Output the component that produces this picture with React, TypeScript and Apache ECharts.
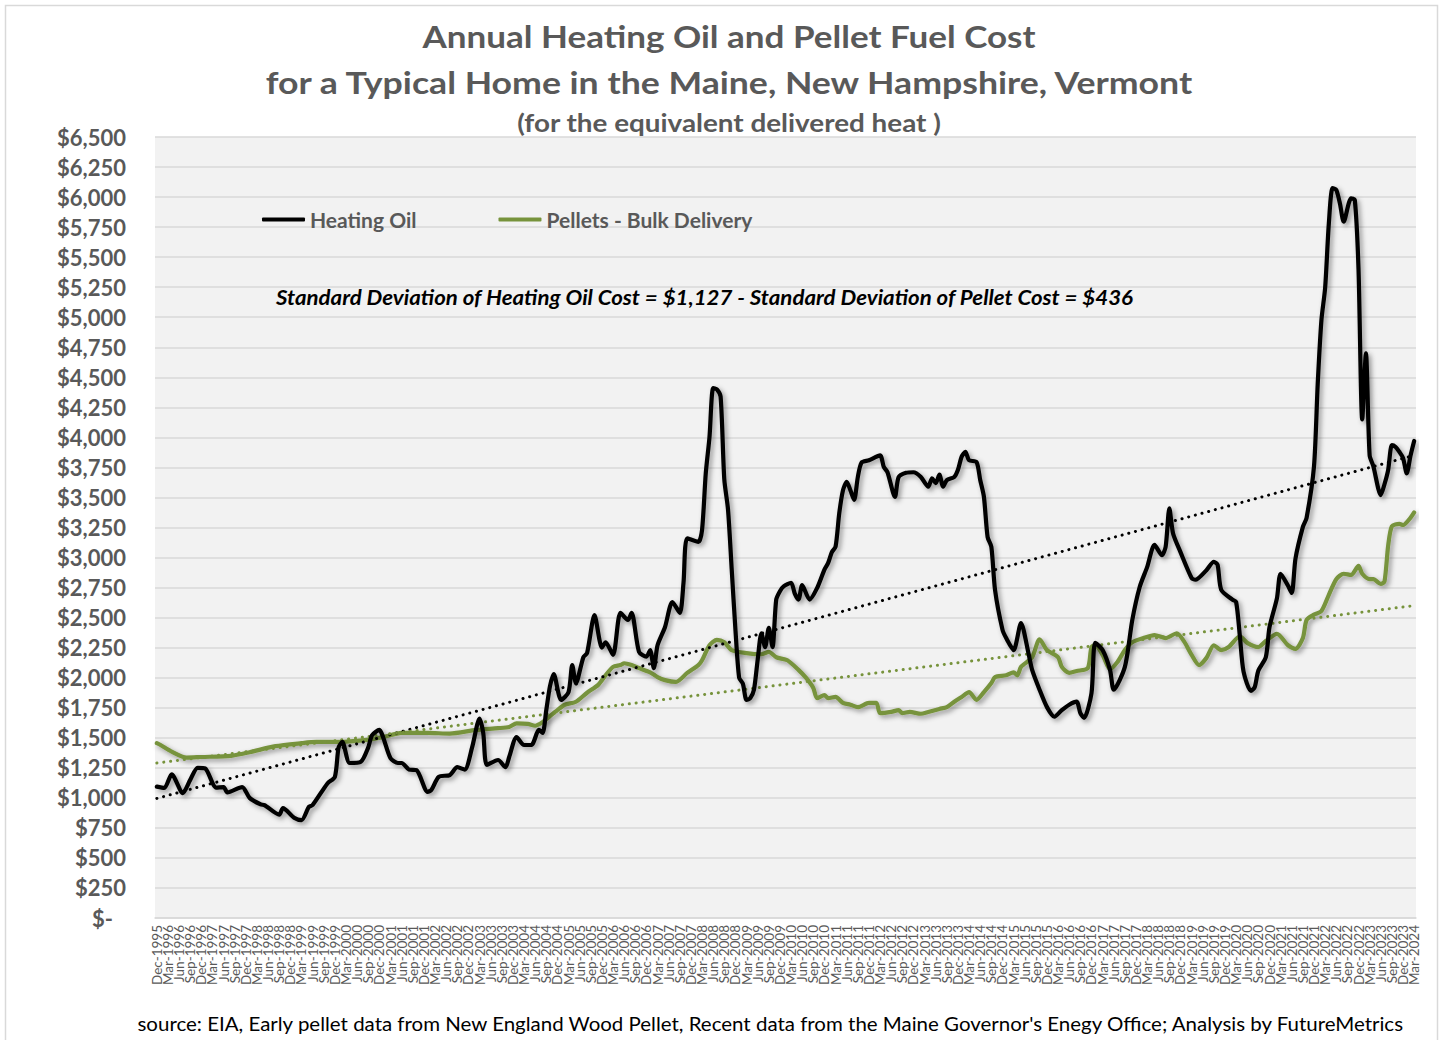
import React, { useEffect, useRef } from "react";
import * as echarts from "echarts";

// Month categories: Dec-1995 .. Mar-2024 (monthly), labels shown quarterly
const MONTH_NAMES = ["Jan", "Feb", "Mar", "Apr", "May", "Jun", "Jul", "Aug", "Sep", "Oct", "Nov", "Dec"];
const START_YEAR = 1995;
const START_MONTH = 11; // December
const MONTH_COUNT = 340;
const categories: string[] = [];
for (let i = 0; i < MONTH_COUNT; i++) {
  const m = (START_MONTH + i) % 12;
  const y = START_YEAR + Math.floor((START_MONTH + i) / 12);
  categories.push(`${MONTH_NAMES[m]}-${y}`);
}

// [month index from Dec-1995, annual cost $]
const heatingOil: [number, number][] = [
  [0, 1093], [2, 1082], [4, 1195], [7, 1040], [9, 1150], [11, 1250], [13, 1245], [16, 1085], [18, 1090], [19, 1045],
  [23, 1090], [25, 1000], [28, 945], [29, 940], [33, 860], [34, 915], [37, 835], [39, 815], [41, 925], [42, 940],
  [46, 1120], [48, 1175], [49, 1420], [50, 1465], [52, 1290], [55, 1300], [57, 1420], [58, 1520], [60, 1565], [61, 1505],
  [63, 1330], [65, 1290], [66, 1290], [68, 1235], [70, 1230], [73, 1050], [74, 1065], [76, 1175], [79, 1190], [81, 1255],
  [83, 1235], [85, 1420], [87, 1660], [88, 1540], [89, 1275], [92, 1315], [94, 1255], [95, 1340], [97, 1505], [99, 1440],
  [101, 1440], [103, 1565], [104, 1540], [105, 1730], [106, 1930], [107, 2030], [109, 1815], [111, 1880], [112, 2105], [113, 1955],
  [115, 2170], [116, 2205], [118, 2520], [120, 2250], [121, 2295], [123, 2190], [125, 2540], [127, 2480], [128, 2540], [130, 2215],
  [132, 2175], [133, 2230], [134, 2080], [135, 2270], [137, 2420], [139, 2630], [141, 2540], [142, 2790], [143, 3160], [146, 3130],
  [147, 3230], [148, 3700], [149, 4000], [150, 4410], [151, 4400], [152, 4340], [153, 3650], [154, 3400], [155, 2900], [156, 2400],
  [157, 2000], [158, 1950], [159, 1815], [160, 1830], [161, 1900], [162, 2150], [163, 2370], [164, 2255], [165, 2415], [166, 2255],
  [167, 2650], [168, 2720], [169, 2760], [171, 2790], [172, 2700], [173, 2650], [174, 2770], [176, 2650], [178, 2745], [180, 2900],
  [181, 2955], [182, 3045], [183, 3090], [184, 3370], [185, 3560], [186, 3630], [187, 3560], [188, 3480], [189, 3670], [190, 3790],
  [192, 3810], [195, 3850], [196, 3755], [197, 3710], [199, 3505], [200, 3670], [202, 3705], [204, 3710], [206, 3670], [208, 3590],
  [209, 3660], [210, 3620], [211, 3690], [212, 3590], [213, 3645], [215, 3670], [216, 3730], [217, 3840], [218, 3880], [219, 3810],
  [221, 3795], [222, 3645], [223, 3505], [224, 3170], [225, 3090], [226, 2730], [228, 2400], [229, 2330], [231, 2230], [233, 2455],
  [235, 2205], [236, 2065], [238, 1900], [240, 1755], [242, 1675], [244, 1730], [246, 1775], [248, 1800], [249, 1705], [250, 1665],
  [252, 1870], [253, 2290], [255, 2230], [257, 2065], [258, 1900], [261, 2090], [263, 2480], [265, 2755], [267, 2920], [269, 3105],
  [271, 3020], [272, 3090], [273, 3410], [274, 3200], [276, 3045], [279, 2830], [280, 2815], [283, 2895], [285, 2965], [286, 2940],
  [287, 2730], [290, 2650], [291, 2630], [292, 2350], [293, 2050], [295, 1890], [296, 1920], [297, 2060], [299, 2170], [300, 2420],
  [302, 2660], [303, 2865], [305, 2765], [306, 2705], [307, 2990], [309, 3255], [310, 3330], [312, 3760], [313, 4445], [314, 4975],
  [315, 5245], [316, 5780], [317, 6075], [318, 6060], [319, 5945], [320, 5795], [322, 5990], [323, 5975], [324, 5400], [325, 4150],
  [326, 4700], [327, 3850], [328, 3760], [330, 3520], [331, 3610], [332, 3730], [333, 3935], [334, 3920], [335, 3880], [336, 3830],
  [337, 3700], [338, 3845], [339, 3970],
];

const pellets: [number, number][] = [
  [0, 1455], [1, 1440], [4, 1385], [8, 1335], [12, 1340], [20, 1350], [25, 1380], [32, 1430], [39, 1455], [43, 1465],
  [49, 1465], [56, 1480], [61, 1505], [66, 1540], [73, 1540], [79, 1535], [86, 1565], [92, 1580], [95, 1590], [97, 1620],
  [100, 1615], [102, 1600], [104, 1630], [106, 1680], [108, 1730], [110, 1775], [113, 1800], [116, 1875], [119, 1940], [121, 2020],
  [123, 2090], [125, 2105], [126, 2120], [128, 2105], [130, 2080], [133, 2045], [135, 2005], [137, 1980], [140, 1965], [143, 2040],
  [146, 2105], [147, 2145], [149, 2270], [151, 2315], [153, 2295], [155, 2230], [159, 2205], [163, 2195], [165, 2215], [167, 2170],
  [170, 2145], [173, 2065], [175, 2000], [177, 1915], [178, 1830], [180, 1855], [181, 1830], [183, 1840], [185, 1790], [187, 1775],
  [189, 1755], [192, 1790], [194, 1790], [195, 1705], [198, 1715], [200, 1730], [201, 1705], [203, 1715], [206, 1700], [208, 1715],
  [211, 1740], [213, 1755], [215, 1800], [217, 1840], [219, 1880], [221, 1815], [223, 1880], [225, 1955], [226, 2005], [229, 2020],
  [231, 2045], [232, 2020], [233, 2090], [236, 2170], [238, 2320], [240, 2230], [243, 2170], [244, 2090], [246, 2040], [248, 2055],
  [251, 2080], [252, 2255], [253, 2270], [255, 2190], [257, 2070], [259, 2130], [261, 2230], [263, 2295], [266, 2330], [269, 2355],
  [272, 2330], [275, 2370], [277, 2300], [279, 2190], [281, 2105], [283, 2165], [285, 2270], [287, 2230], [289, 2255], [292, 2345],
  [294, 2290], [297, 2255], [299, 2305], [302, 2365], [305, 2270], [307, 2240], [309, 2330], [310, 2480], [312, 2525], [314, 2555],
  [316, 2690], [318, 2820], [320, 2865], [322, 2855], [324, 2930], [325, 2865], [327, 2820], [328, 2820], [330, 2780], [331, 2800],
  [332, 3100], [333, 3260], [335, 3280], [336, 3270], [338, 3330], [339, 3375],
];

// Linear trend lines (end points)
const heatingOilTrend: [number, number][] = [[0, 995], [339, 3850]];
const pelletsTrend: [number, number][] = [[0, 1290], [339, 2600]];

const Y_MIN = 0;
const Y_MAX = 6500;
const Y_STEP = 250;
const LABEL_EVERY = 3; // quarterly tick labels

const TITLE_1 = "Annual Heating Oil and Pellet Fuel Cost";
const TITLE_2 = "for a Typical Home in the Maine, New Hampshire, Vermont";
const TITLE_3 = "(for the equivalent delivered heat )";
const STD_NOTE = "Standard Deviation of Heating Oil Cost = $1,127 - Standard Deviation of Pellet Cost = $436";
const SOURCE = "source: EIA, Early pellet data from New England Wood Pellet, Recent data from the Maine Governor's Enegy Office; Analysis by FutureMetrics";

const FONT = "Lato, 'Noto Sans', sans-serif";
const GRAY = "#595959";
const GREEN = "#77933C";

function fmtMoney(v: number): string {
  if (v === 0) return "{z|$-}";
  return "$" + v.toLocaleString("en-US");
}

export default function App() {
  const ref = useRef<HTMLDivElement>(null);
  useEffect(() => {
    if (!ref.current) return;
    const chart = echarts.init(ref.current, null, { renderer: "svg" });
    const shadow = {
      shadowColor: "rgba(0,0,0,0.4)",
      shadowBlur: 5,
      shadowOffsetX: 2.5,
      shadowOffsetY: 2.5,
    };
    chart.setOption({
      animation: false,
      backgroundColor: "#ffffff",
      grid: {
        left: 155,
        right: 27,
        top: 137,
        bottom: 122,
        show: true,
        backgroundColor: "#F2F2F2",
        borderWidth: 0,
      },
      legend: {
        left: 262,
        top: 209,
        padding: 0,
        itemWidth: 43,
        itemHeight: 4,
        itemGap: 82,
        data: [
          { name: "Heating Oil", icon: "roundRect" },
          { name: "Pellets - Bulk Delivery", icon: "roundRect" },
        ],
        textStyle: { fontFamily: FONT, fontWeight: "bold", fontSize: 21, color: GRAY },
      },
      xAxis: {
        type: "category",
        data: categories,
        boundaryGap: true,
        axisTick: { show: false },
        axisLine: { lineStyle: { color: "#D9D9D9", width: 1.5 } },
        axisLabel: {
          interval: 0,
          formatter: (value: string, idx: number) => (idx % LABEL_EVERY === 0 ? value : ""),
          showMinLabel: true,
          showMaxLabel: true,
          rotate: 90,
          fontFamily: FONT,
          fontSize: 13.5,
          color: GRAY,
          margin: 7,
          hideOverlap: false,
        },
        splitLine: { show: false },
      },
      yAxis: {
        type: "value",
        min: Y_MIN,
        max: Y_MAX,
        interval: Y_STEP,
        axisLine: { show: false },
        axisTick: { show: false },
        axisLabel: {
          formatter: fmtMoney,
          fontFamily: FONT,
          fontWeight: "bold",
          fontSize: 22,
          color: GRAY,
          margin: 29,
          rich: { z: { fontFamily: FONT, fontWeight: "bold", fontSize: 22, color: GRAY, padding: [0, 13, 0, 0] } },
        },
        splitLine: { lineStyle: { color: "#D9D9D9", width: 1.5 } },
      },
      series: [
        {
          name: "Heating Oil Trend",
          type: "line",
          data: heatingOilTrend,
          symbol: "none",
          silent: true,
          lineStyle: { color: "#000000", width: 3, type: [0.1, 6.8], cap: "round" },
          z: 4,
        },
        {
          name: "Pellets Trend",
          type: "line",
          data: pelletsTrend,
          symbol: "none",
          silent: true,
          lineStyle: { color: GREEN, width: 3, type: [0.1, 6.8], cap: "round" },
          z: 4,
        },
        {
          name: "Pellets - Bulk Delivery",
          type: "line",
          data: pellets,
          symbol: "none",
          smooth: 0.25,
          itemStyle: { color: GREEN },
          lineStyle: { color: GREEN, width: 4.2, join: "round", cap: "round", ...shadow },
          z: 3,
        },
        {
          name: "Heating Oil",
          type: "line",
          data: heatingOil,
          symbol: "none",
          smooth: 0.25,
          itemStyle: { color: "#000000" },
          lineStyle: { color: "#000000", width: 4.2, join: "round", cap: "round", ...shadow },
          z: 5,
        },
      ],
      graphic: [
        {
          type: "rect",
          silent: true,
          z: -10,
          shape: { x: 5.5, y: 5.5, width: 1432, height: 1050 },
          style: { fill: "none", stroke: "#D9D9D9", lineWidth: 1.5 },
        },
        {
          type: "text",
          x: 729,
          y: 36,
          scaleX: 1.13,
          style: { text: TITLE_1, font: `bold 31px ${FONT}`, fill: GRAY, align: "center", verticalAlign: "middle" },
        },
        {
          type: "text",
          x: 729,
          y: 82,
          scaleX: 1.15,
          style: { text: TITLE_2, font: `bold 31px ${FONT}`, fill: GRAY, align: "center", verticalAlign: "middle" },
        },
        {
          type: "text",
          x: 729,
          y: 123,
          scaleX: 1.16,
          style: { text: TITLE_3, font: `bold 24px ${FONT}`, fill: GRAY, align: "center", verticalAlign: "middle" },
        },
        {
          type: "text",
          x: 276,
          y: 297,
          z: 10,
          scaleX: 1.06,
          style: { text: STD_NOTE, font: `italic bold 21px ${FONT}`, fill: "#000000", align: "left", verticalAlign: "middle" },
        },
        {
          type: "text",
          x: 1403,
          y: 1023,
          scaleX: 1.05,
          style: { text: SOURCE, font: `19.5px ${FONT}`, fill: "#000000", align: "right", verticalAlign: "middle" },
        },
      ],
    });
    return () => chart.dispose();
  }, []);
  return (
    <div
      ref={ref}
      style={{ position: "fixed", left: 0, top: 0, width: 1443, height: 1040, background: "#ffffff" }}
    />
  );
}
